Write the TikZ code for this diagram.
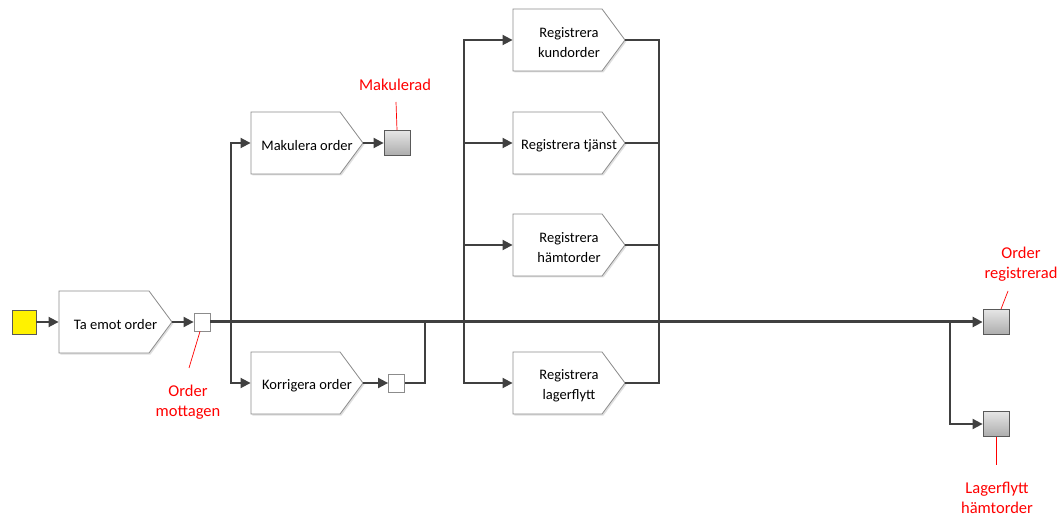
\documentclass[tikz,border=0pt]{standalone}
\usepackage{fontspec}
\setmainfont{Carlito}
\usetikzlibrary{shapes.symbols,arrows.meta,shadows,calc}
\definecolor{ln}{HTML}{404040}
\definecolor{bd}{HTML}{8C8C8C}
\tikzset{
 proc/.style={signal, signal to=east, signal pointer angle=107, draw=bd, fill=white, line width=0.8pt,
   minimum width=112pt, minimum height=62pt, inner sep=0pt,
   drop shadow={opacity=0.25, shadow xshift=1.5pt, shadow yshift=-1.5pt},
   label={[ptext]center:#1}},
 ptext/.style={align=center, font=\fontsize{14.5}{20}\selectfont, inner sep=0pt, xshift=11.5pt, yshift=-2.5pt},
 ev/.style={rectangle, draw=bd, fill=white, line width=0.8pt, minimum width=16pt, minimum height=18pt, inner sep=0pt},
 endev/.style={rectangle, draw=gray!70!black, top color=gray!20, bottom color=gray!65, line width=0.8pt,
   minimum width=26pt, minimum height=25pt, inner sep=0pt},
 startev/.style={rectangle, draw=gray!70!black, fill=yellow, minimum size=24pt, inner sep=0pt, line width=0.6pt},
 conn/.style={draw=ln, line width=1.8pt, -{Triangle[length=10pt,width=10pt]}},
 plain/.style={draw=ln, line width=1.8pt},
 mainln/.style={draw=ln, line width=3pt, -{Triangle[length=10pt,width=10pt]}},
 lbl/.style={text=red, align=center, font=\fontsize{16.5}{20}\selectfont, inner sep=0pt},
 leader/.style={draw=red, line width=0.7pt},
}
\begin{document}
\begin{tikzpicture}[x=1pt,y=-1pt]
\useasboundingbox (0,0) rectangle (1062,518);
% nodes
\node[proc={Ta emot order}, minimum width=113pt] (ta) at (104,322) {};
\node[startev] (st) at (24,322) {};
\node[ev] (om) at (202,322) {};
\node[proc={Makulera order}] (mak) at (295.5,143) {};
\node[endev] (makd) at (397,143) {};
\node[proc={Korrigera order}] (korr) at (295.5,383) {};
\node[ev] (kev) at (396.5,383) {};
\node[proc={Registrera\\kundorder}] (rk) at (557.5,40) {};
\node[proc={Registrera tjänst}] (rt) at (557.5,143) {};
\node[proc={Registrera\\hämtorder}] (rh) at (557.5,245) {};
\node[proc={Registrera\\lagerflytt}] (rl) at (557.5,383) {};
\node[endev] (regd) at (996,322) {};
\node[endev] (lag) at (996,424) {};
% junctions
\coordinate (j1) at (231,322);
\coordinate (j2) at (425,322);
\coordinate (j3) at (464,322);
\coordinate (j4) at (659,322);
\coordinate (j5) at (950,322);
% labels
\node[lbl] (lom) at (188,402) {Order\\mottagen};
\node[lbl] (lmak) at (395,85) {Makulerad};
\node[lbl] (lreg) at (1021,264) {Order\\registrerad};
\node[lbl] (llag) at (997,498) {Lagerflytt\\hämtorder};
\coordinate (l1) at (189,368);
\coordinate (l2) at (396,102);
\coordinate (l3) at (1008,291);
\coordinate (l4) at (996,465);
% connectors
\draw[conn] (st.east) -- (ta.west);
\draw[conn] (ta.east) -- (om.west);
\draw[conn] (j1) |- (mak.west);
\draw[conn] (j1) |- (korr.west);
\draw[conn] (mak.east) -- (makd.west);
\draw[conn] (korr.east) -- (kev.west);
\draw[plain] (kev.east) -| (j2);
\draw[conn] (j3) |- (rk.west);
\draw[conn] (j3) |- (rt.west);
\draw[conn] (j3) |- (rh.west);
\draw[conn] (j3) |- (rl.west);
\draw[plain] (rk.east) -| (j4);
\draw[plain] (rt.east) -| (j4);
\draw[plain] (rh.east) -| (j4);
\draw[plain] (rl.east) -| (j4);
\draw[conn] (j5) |- (lag.west);
\draw[mainln] (om.east) -- (regd.west);
% leaders
\draw[leader] ($(om.south)+(-2,0)$) -- (l1);
\draw[leader] (makd.north) -- (l2);
\draw[leader] ($(regd.north)+(5,0)$) -- (l3);
\draw[leader] (lag.south) -- (l4);
\end{tikzpicture}
\end{document}
